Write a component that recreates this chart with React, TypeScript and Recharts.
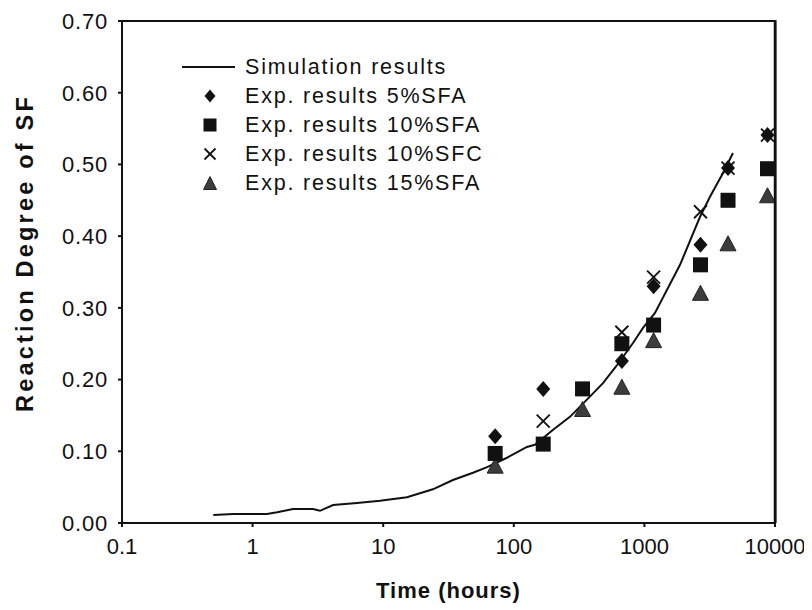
import React from 'react';
import {
  ComposedChart,
  Line,
  Scatter,
  XAxis,
  YAxis,
  Legend,
} from 'recharts';

// ---- data ----
const simTimes = [0.5, 0.71, 1.29, 1.54, 2.04, 2.9, 3.28, 4.13, 6.3, 9.45, 15.2, 24, 34.2, 48.7, 62.4, 88.7, 126, 145, 200, 269, 363, 482, 617, 818, 976, 1205, 1874, 2667, 3178, 4000, 4766];
const simValues = [0.011, 0.0125, 0.0125, 0.015, 0.0195, 0.0195, 0.017, 0.025, 0.028, 0.031, 0.036, 0.047, 0.06, 0.07, 0.078, 0.091, 0.106, 0.109, 0.13, 0.148, 0.172, 0.195, 0.22, 0.251, 0.272, 0.293, 0.36, 0.427, 0.455, 0.488, 0.516];

const sfa5Times = [72, 168, 672, 1176, 2688, 4368, 8760];
const sfa5Values = [0.121, 0.187, 0.226, 0.33, 0.388, 0.495, 0.541];

const sfa10Times = [72, 168, 336, 672, 1176, 2688, 4368, 8760];
const sfa10Values = [0.097, 0.11, 0.187, 0.25, 0.276, 0.36, 0.45, 0.494];

const sfc10Times = [168, 672, 1176, 2688, 4368, 8760];
const sfc10Values = [0.142, 0.266, 0.343, 0.434, 0.495, 0.541];

const sfa15Times = [72, 336, 672, 1176, 2688, 4368, 8760];
const sfa15Values = [0.08, 0.159, 0.19, 0.255, 0.321, 0.39, 0.457];

const xTicks = [0.1, 1, 10, 100, 1000, 10000];
const yTicks = [0, 0.1, 0.2, 0.3, 0.4, 0.5, 0.6, 0.7];
const xMin = 0.1;
const xMax = 10000;
const yMin = 0;
const yMax = 0.7;

const legendLabels = [
  'Simulation results',
  'Exp. results 5%SFA',
  'Exp. results 10%SFA',
  'Exp. results 10%SFC',
  'Exp. results 15%SFA',
];

const zip = (ts: number[], vs: number[]) => ts.map((t, i) => ({ t, v: vs[i] }));

const simData = zip(simTimes, simValues);
const sfa5Data = zip(sfa5Times, sfa5Values);
const sfa10Data = zip(sfa10Times, sfa10Values);
const sfc10Data = zip(sfc10Times, sfc10Values);
const sfa15Data = zip(sfa15Times, sfa15Values);

// ---- layout ----
const W = 804;
const H = 602;
const M = { top: 13, right: 37, bottom: 0, left: 0 };
const Y_AXIS_W = 114;
const X_AXIS_H = 87;
const PLOT_LEFT = M.left + Y_AXIS_W;
const PLOT_TOP = M.top;
const PLOT_W = W - M.left - M.right - Y_AXIS_W;
const PLOT_H = H - M.top - M.bottom - X_AXIS_H;

const FONT = '"Liberation Sans", Arial, sans-serif';
const INK = '#111';
const TRI = '#3c3c3c';

// ---- marker shapes ----
const Diamond = (cx: number, cy: number, w: number, h: number) => (
  <path d={`M${cx},${cy - h / 2} L${cx + w / 2},${cy} L${cx},${cy + h / 2} L${cx - w / 2},${cy} Z`} fill={INK} />
);
const Square = (cx: number, cy: number, s: number) => (
  <rect x={cx - s / 2} y={cy - s / 2} width={s} height={s} fill={INK} />
);
const Cross = (cx: number, cy: number, s: number) => (
  <g stroke={INK} strokeWidth={1.8}>
    <line x1={cx - s / 2} y1={cy - s / 2} x2={cx + s / 2} y2={cy + s / 2} />
    <line x1={cx - s / 2} y1={cy + s / 2} x2={cx + s / 2} y2={cy - s / 2} />
  </g>
);
const Triangle = (cx: number, cy: number, w: number, h: number) => (
  <path d={`M${cx},${cy - h / 2} L${cx + w / 2},${cy + h / 2} L${cx - w / 2},${cy + h / 2} Z`} fill={TRI} stroke="#222" strokeWidth={1} />
);

const diamondShape = (p: any) => <g>{Diamond(p.cx, p.cy, 14, 16)}</g>;
const squareShape = (p: any) => <g>{Square(p.cx, p.cy, 15)}</g>;
const crossShape = (p: any) => <g>{Cross(p.cx, p.cy, 13)}</g>;
const triangleShape = (p: any) => <g>{Triangle(p.cx, p.cy, 16, 15)}</g>;

// Legend plus the plot frame (top/right border), drawn in one overlay svg
const LEG_X = 170;
const LEG_Y = 45;
const LegendBox = () => {
  const rowY = (i: number) => LEG_Y + 14 + i * 29;
  const mx = LEG_X + 32;
  const r = PLOT_LEFT + PLOT_W;
  const b = PLOT_TOP + PLOT_H;
  return (
    <svg width={W} height={H} style={{ display: 'block' }}>
      <rect x={PLOT_LEFT} y={PLOT_TOP - 1} width={PLOT_W} height={2} fill={INK} />
      <rect x={r - 1} y={PLOT_TOP - 1} width={2.5} height={PLOT_H + 1} fill={INK} />
      <line x1={PLOT_LEFT} y1={PLOT_TOP} x2={r} y2={PLOT_TOP} stroke={INK} strokeWidth={2} />
      <line x1={r} y1={PLOT_TOP} x2={r} y2={b} stroke={INK} strokeWidth={2.5} />
      <line x1={LEG_X + 4} x2={LEG_X + 57} y1={rowY(0)} y2={rowY(0)} stroke={INK} strokeWidth={2} />
      {Diamond(mx, rowY(1), 11, 13)}
      {Square(mx, rowY(2), 13)}
      {Cross(mx, rowY(3), 11)}
      {Triangle(mx, rowY(4), 13, 13)}
      {legendLabels.map((s, i) => (
        <text key={s} x={LEG_X + 67} y={rowY(i)} dominantBaseline="central" fontFamily={FONT} fontSize={21.5} letterSpacing={1.8} fill={INK}>
          {s}
        </text>
      ))}
    </svg>
  );
};

export default function App() {
  return (
    <ComposedChart
      width={W}
      height={H}
      margin={M}
      style={{ fontFamily: FONT }}
    >
      <XAxis
        dataKey="t"
        type="number"
        scale="log"
        domain={[xMin, xMax]}
        ticks={xTicks}
        allowDataOverflow
        height={X_AXIS_H}
        stroke={INK}
        strokeWidth={2}
        tickSize={4}
        tickMargin={11}
        tick={{ fill: INK, fontSize: 22, fontFamily: FONT }}
        tickFormatter={(v: number) => String(v)}
        label={{
          value: 'Time (hours)',
          position: 'insideBottom',
          offset: 12,
          fill: INK,
          fontSize: 22,
          fontWeight: 'bold',
          fontFamily: FONT,
          letterSpacing: 1,
        }}
      />
      <YAxis
        dataKey="v"
        type="number"
        domain={[yMin, yMax]}
        ticks={yTicks}
        width={Y_AXIS_W}
        stroke={INK}
        strokeWidth={2}
        tickSize={4}
        tickMargin={10}
        tick={{ fill: INK, fontSize: 22, fontFamily: FONT, letterSpacing: 0.8 }}
        tickFormatter={(v: number) => v.toFixed(2)}
        label={{
          content: () => (
            <text
              x={17}
              y={245}
              transform="rotate(-90, 17, 245)"
              textAnchor="middle"
              dominantBaseline="central"
              fontFamily={FONT}
              fontSize={23.5}
              fontWeight="bold"
              letterSpacing={3.2}
              fill={INK}
            >
              Reaction Degree of SF
            </text>
          ),
        }}
      />
      <Legend
        layout="vertical"
        align="center"
        verticalAlign="middle"
        wrapperStyle={{ top: 0, left: 0, width: W, height: H, pointerEvents: 'none' }}
        content={() => <LegendBox />}
      />
      <Line
        data={simData}
        dataKey="v"
        type="linear"
        stroke={INK}
        strokeWidth={2}
        dot={false}
        activeDot={false}
        isAnimationActive={false}
        name={legendLabels[0]}
      />
      <Scatter data={sfa15Data} dataKey="v" shape={triangleShape} isAnimationActive={false} name={legendLabels[4]} />
      <Scatter data={sfa10Data} dataKey="v" shape={squareShape} isAnimationActive={false} name={legendLabels[2]} />
      <Scatter data={sfa5Data} dataKey="v" shape={diamondShape} isAnimationActive={false} name={legendLabels[1]} />
      <Scatter data={sfc10Data} dataKey="v" shape={crossShape} isAnimationActive={false} name={legendLabels[3]} />
    </ComposedChart>
  );
}
